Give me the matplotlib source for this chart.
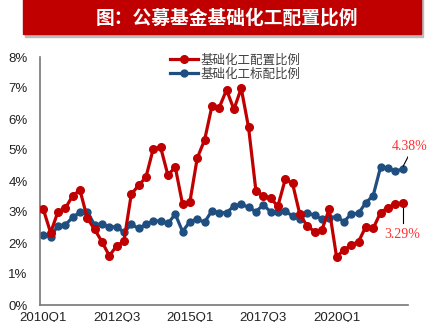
import matplotlib
matplotlib.use('Agg')
from matplotlib import pyplot as plt
from matplotlib.patches import Rectangle

plt.rcParams['font.family'] = ['Liberation Sans', 'Noto Sans CJK SC', 'DejaVu Sans']

title = '图：公募基金基础化工配置比例'
tick_labels = ['2010Q1', '2012Q3', '2015Q1', '2017Q3', '2020Q1']
tick_index = [0, 10, 20, 30, 40]

# 基础化工配置比例 (%), 2010Q1 - 2022Q2
weight = [3.09, 2.33, 3.01, 3.12, 3.52, 3.71, 2.80, 2.44, 2.04, 1.59,
          1.90, 2.06, 3.57, 3.86, 4.12, 5.04, 5.09, 4.19, 4.45, 3.25,
          3.33, 4.74, 5.32, 6.41, 6.37, 6.94, 6.31, 6.99, 5.73, 3.69,
          3.52, 3.44, 3.19, 4.05, 3.92, 2.92, 2.55, 2.37, 2.42, 3.09,
          1.56, 1.77, 1.94, 2.04, 2.53, 2.47, 2.98, 3.14, 3.26, 3.29]
# 基础化工标配比例 (%)
benchmark = [2.26, 2.20, 2.56, 2.58, 2.83, 2.99, 3.01, 2.58, 2.61, 2.51,
             2.53, 2.34, 2.60, 2.47, 2.60, 2.71, 2.71, 2.63, 2.93, 2.37,
             2.69, 2.77, 2.67, 3.04, 2.98, 2.98, 3.19, 3.25, 3.15, 3.01,
             3.23, 3.01, 3.01, 3.03, 2.87, 2.76, 2.96, 2.90, 2.76, 2.82,
             2.85, 2.69, 2.93, 2.96, 3.30, 3.53, 4.44, 4.42, 4.32, 4.38]

red = '#C00000'
blue = '#1F4E80'
cjk = ['Noto Sans CJK SC', 'DejaVu Sans']

fig = plt.figure(figsize=(4.43, 3.22), dpi=100)

# title banner with shadow
fig.patches.append(Rectangle((25 / 443, 1 - 37 / 322), 398 / 443, 40 / 322,
                             transform=fig.transFigure, color='#BBBBBB', zorder=0))
fig.patches.append(Rectangle((23 / 443, 1 - 34 / 322), 398 / 443, 40 / 322,
                             transform=fig.transFigure, color=red, zorder=1))
fig.text(227 / 443, 1 - 18 / 322, title, color='white', fontsize=13.5, fontweight='bold',
         ha='center', va='center', family=cjk)

ax = fig.add_axes([40 / 443, 1 - 305 / 322, 368 / 443, 248 / 322])
x = list(range(len(weight)))
ax.plot(x, weight, color=red, lw=2.3, marker='o', ms=5.5, label='基础化工配置比例', zorder=3)
ax.plot(x, benchmark, color=blue, lw=2.3, marker='o', ms=5.0, label='基础化工标配比例', zorder=2)

ax.set_xlim(-0.45, 49.75)
ax.set_ylim(0, 8)
ax.set_yticks(range(9))
ax.set_yticklabels([f'{v}%' for v in range(9)], fontsize=9.5, color='#222222')
ax.set_xticks(tick_index)
ax.set_xticklabels(tick_labels, fontsize=9.5, color='#222222')
ax.tick_params(length=0, pad=5)
ax.tick_params(axis='y', pad=9)
for s in ['top', 'right']:
    ax.spines[s].set_visible(False)
for s in ['left', 'bottom']:
    ax.spines[s].set_color('#777777')
    ax.spines[s].set_linewidth(1.2)

leg = ax.legend(loc='upper center', bbox_to_anchor=(0.53, 1.035), frameon=False,
                handlelength=2.2, handletextpad=0.2, labelspacing=0.1,
                borderaxespad=0, prop={'family': cjk, 'size': 9})
for t in leg.get_texts():
    t.set_color('#404040')

# end labels with leader lines
ax.plot([x[-1] + 0.1, x[-1] + 0.8], [benchmark[-1] + 0.1, benchmark[-1] + 0.42],
        color='black', lw=0.8)
ax.text(x[-1] + 1.0, benchmark[-1] + 0.72, f'{benchmark[-1]:.2f}%', color='#FF3030',
        fontsize=10, family='Liberation Serif', ha='center', va='center')
ax.plot([x[-1], x[-1]], [weight[-1] - 0.1, weight[-1] - 0.65], color='black', lw=0.8)
ax.text(x[-1], weight[-1] - 1.02, f'{weight[-1]:.2f}%', color='#FF3030',
        fontsize=10, family='Liberation Serif', ha='center', va='center')

fig.savefig('out.png', dpi=100)
